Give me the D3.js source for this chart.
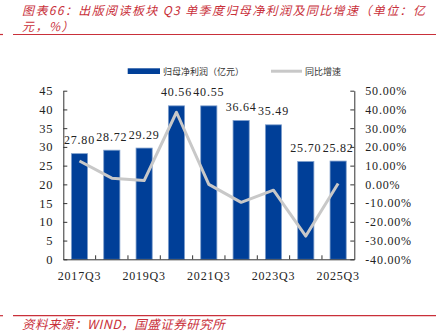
<!DOCTYPE html>
<html>
<head>
<meta charset="utf-8">
<script src="https://cdn.jsdelivr.net/npm/d3@7"></script>
<style>
body { margin: 0; background: #fff; }
svg { display: block; }
.num { font-family: "Liberation Serif", "DejaVu Serif", serif; font-size: 12px; fill: #222; letter-spacing: 0.8px; }
.cn { font-family: "Noto Sans CJK SC", sans-serif; }
</style>
</head>
<body>
<svg id="chart" width="436" height="333"></svg>
<script>
// categories and values
var quarters = ["2017Q3", "2018Q3", "2019Q3", "2020Q3", "2021Q3", "2022Q3", "2023Q3", "2024Q3", "2025Q3"];
var profit = [27.80, 28.72, 29.29, 40.56, 40.55, 36.64, 35.49, 25.70, 25.82];
var growth = [12.5, 3.3, 2.0, 38.5, 0.0, -9.6, -3.1, -27.6, 0.5];
var leftTicks = [0, 5, 10, 15, 20, 25, 30, 35, 40, 45];
var rightTicks = [-40, -30, -20, -10, 0, 10, 20, 30, 40, 50];
var shownQuarters = ["2017Q3", "2019Q3", "2021Q3", "2023Q3", "2025Q3"];

var red = "#c9303a";
var blue = "#003f98";
var grey = "#c8c8c8";

var svg = d3.select("#chart");
var plot = { left: 63.3, right: 354.3, top: 90.7, bottom: 259.3 };

var x = d3.scaleBand()
	.domain(quarters)
	.range([plot.left, plot.right])
	.paddingInner(0.5)
	.paddingOuter(0.25);
var yL = d3.scaleLinear().domain([0, 45]).range([plot.bottom, plot.top]);
var yR = d3.scaleLinear().domain([-40, 50]).range([plot.bottom, plot.top]);

// title + rules
var title = svg.append("g").attr("class", "cn")
	.style("font-style", "italic")
	.style("font-size", "12px")
	.attr("fill", red);
title.append("text").attr("x", 22).attr("y", 15)
	.attr("textLength", 403).attr("lengthAdjust", "spacing")
	.text("图表66：出版阅读板块 Q3 单季度归母净利润及同比增速（单位：亿");
title.append("text").attr("x", 22).attr("y", 30.5)
	.style("letter-spacing", "1.5px")
	.text("元，%）");

[34.5, 315.7].forEach(function(yy) {
	svg.append("line").attr("x1", 0).attr("x2", 3).attr("y1", yy).attr("y2", yy)
		.attr("stroke", red).attr("stroke-width", 1.2);
	svg.append("line").attr("x1", 13).attr("x2", 436).attr("y1", yy).attr("y2", yy)
		.attr("stroke", red).attr("stroke-width", 1.2);
});

svg.append("text").attr("class", "cn")
	.attr("x", 22).attr("y", 329)
	.style("font-style", "italic")
	.style("font-size", "12.5px")
	.style("letter-spacing", "0.5px")
	.attr("fill", red)
	.text("资料来源：WIND，国盛证券研究所");

// legend
var legend = svg.append("g").attr("class", "cn").style("font-size", "9px").attr("fill", "#333");
legend.append("rect").attr("x", 127.7).attr("y", 68.3).attr("width", 32.3).attr("height", 5.7).attr("fill", blue);
legend.append("text").attr("x", 163).attr("y", 74.5).text("归母净利润（亿元）");
legend.append("line").attr("x1", 271).attr("x2", 302).attr("y1", 71.2).attr("y2", 71.2)
	.attr("stroke", grey).attr("stroke-width", 3);
legend.append("text").attr("x", 305).attr("y", 74.5).text("同比增速");

// bars
svg.append("g").selectAll("rect")
	.data(profit)
	.enter().append("rect")
		.attr("x", function(d, i) { return x(quarters[i]); })
		.attr("y", function(d) { return yL(d) - 1.5; })
		.attr("width", x.bandwidth())
		.attr("height", function(d) { return plot.bottom - yL(d) + 1.5; })
		.attr("fill", blue)
		.attr("stroke", "#7f9fcc")
		.attr("stroke-width", 0.8);

// bar labels
svg.append("g").selectAll("text")
	.data(profit)
	.enter().append("text")
		.attr("class", "num")
		.attr("text-anchor", "middle")
		.attr("x", function(d, i) { return x(quarters[i]) + x.bandwidth() / 2; })
		.attr("y", function(d) { return yL(d) - 11; })
		.text(function(d) { return d.toFixed(2); });

// growth line
var line = d3.line()
	.x(function(d, i) { return x(quarters[i]) + x.bandwidth() / 2; })
	.y(function(d) { return yR(d); });
svg.append("path")
	.datum(growth)
	.attr("d", line)
	.attr("fill", "none")
	.attr("stroke", grey)
	.attr("stroke-width", 3)
	.attr("stroke-linejoin", "round");

// axes
var axisColor = "#333";
var leftAxis = svg.append("g")
	.attr("transform", "translate(" + plot.left + ",0)")
	.call(d3.axisLeft(yL).tickValues(leftTicks).tickSizeInner(-4).tickSizeOuter(0).tickPadding(10));
var rightAxis = svg.append("g")
	.attr("transform", "translate(" + plot.right + ",0)")
	.call(d3.axisRight(yR).tickValues(rightTicks).tickSizeInner(-4).tickSizeOuter(0).tickPadding(11)
		.tickFormat(function(d) { return d.toFixed(2) + "%"; }));
var bottomAxis = svg.append("g")
	.attr("transform", "translate(0," + plot.bottom + ")")
	.call(d3.axisBottom(x).tickValues(shownQuarters).tickSize(0).tickPadding(12));
// band-edge ticks pointing up
var edges = quarters.slice(1).map(function(q) { return x(q) - x.step() * x.paddingInner() / 2; });
svg.append("g").selectAll("line")
	.data(edges)
	.enter().append("line")
		.attr("x1", function(d) { return d; })
		.attr("x2", function(d) { return d; })
		.attr("y1", plot.bottom)
		.attr("y2", plot.bottom - 4)
		.attr("stroke", axisColor);

[leftAxis, rightAxis, bottomAxis].forEach(function(a) {
	a.select(".domain").attr("stroke", axisColor);
	a.selectAll(".tick line").attr("stroke", axisColor);
	a.selectAll(".tick text").attr("class", "num").attr("fill", "#222").attr("font-family", null).attr("font-size", null);
});
leftAxis.selectAll(".tick text").style("font-size", "12.5px");
</script>
</body>
</html>
